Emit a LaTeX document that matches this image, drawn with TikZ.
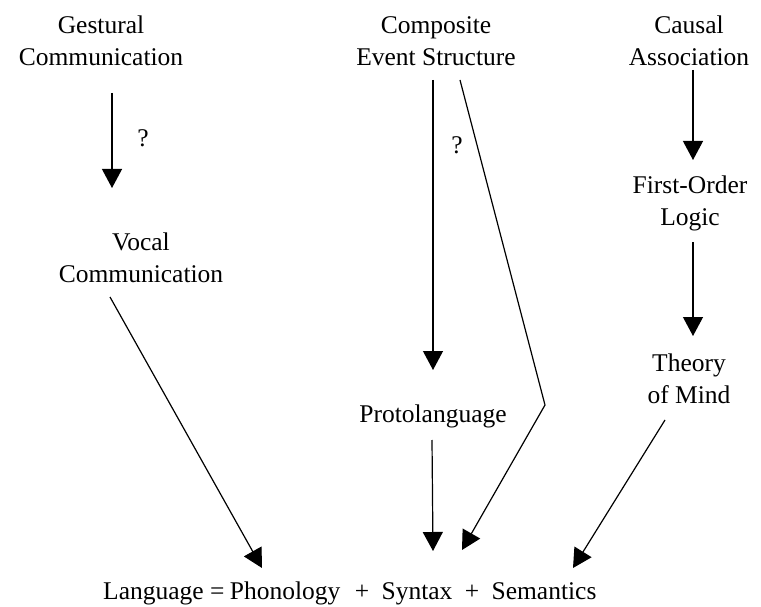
\documentclass[tikz,border=0pt]{standalone}
\usepackage{fontspec}
\setmainfont{Liberation Serif}
\usetikzlibrary{arrows.meta,calc}
\begin{document}
\begin{tikzpicture}[x=1pt,y=-1pt,
  lbl/.style={font=\fontsize{25.5}{32}\selectfont, align=center, inner sep=0pt},
  arr/.style={line width=1.2pt, -{Triangle[width=20pt,length=19pt]}},
  ln/.style={line width=1.2pt}]
\useasboundingbox (0,0) rectangle (761,607);
% top row
\node[lbl] (gest) at (101,41) {Gestural\\Communication};
\node[lbl] (comp) at (436,41) {Composite\\Event Structure};
\node[lbl] (causal) at (689,41) {Causal\\Association};
% middle
\node[lbl] (vocal) at (141,258) {Vocal\\Communication};
\node[lbl] (fol) at (690,203) {First-Order\\Logic};
\node[lbl] (tom) at (689,379) {Theory\\of Mind};
\node[lbl] (proto) at (433,416) {Protolanguage};
% question marks
\node[lbl] (q1) at (143,138) {?};
\node[lbl] (q2) at (457,145) {?};
% bottom line
\node[lbl, anchor=base west] (lang) at (103,599) {Language =};
\node[lbl, anchor=base west] (phon) at ($(lang.base east)+(5,0)$) {Phonology};
\node[lbl, anchor=base west] (p1) at ($(phon.base east)+(14,0)$) {+};
\node[lbl, anchor=base west] (syn) at ($(p1.base east)+(12,0)$) {Syntax};
\node[lbl, anchor=base west] (p2) at ($(syn.base east)+(12,0)$) {+};
\node[lbl, anchor=base west] (sem) at ($(p2.base east)+(12,0)$) {Semantics};
% tips and bend
\coordinate (tipP) at (262,568);
\coordinate (tipS1) at (433,551);
\coordinate (tipS2) at (462,550);
\coordinate (tipM) at (573,568);
\coordinate (bend) at (545,405);
% connectors
\draw[arr] ($(gest)+(11,52)$) -- ($(vocal)+(-29,-70)$);
\draw[arr] ($(comp)+(-3,39)$) -- ($(proto)+(0,-46)$);
\draw[arr] ($(comp)+(24,39)$) -- (bend) -- (tipS2);
\draw[arr] ($(proto)+(-1,24)$) -- (tipS1);
\draw[arr] ($(causal)+(4,29)$) -- ($(fol)+(3,-43)$);
\draw[arr] ($(fol)+(3,39)$) -- ($(tom)+(4,-43)$);
\draw[arr] ($(tom)+(-24,41)$) -- (tipM);
\draw[arr] ($(vocal)+(-31,39)$) -- (tipP);
\end{tikzpicture}
\end{document}
